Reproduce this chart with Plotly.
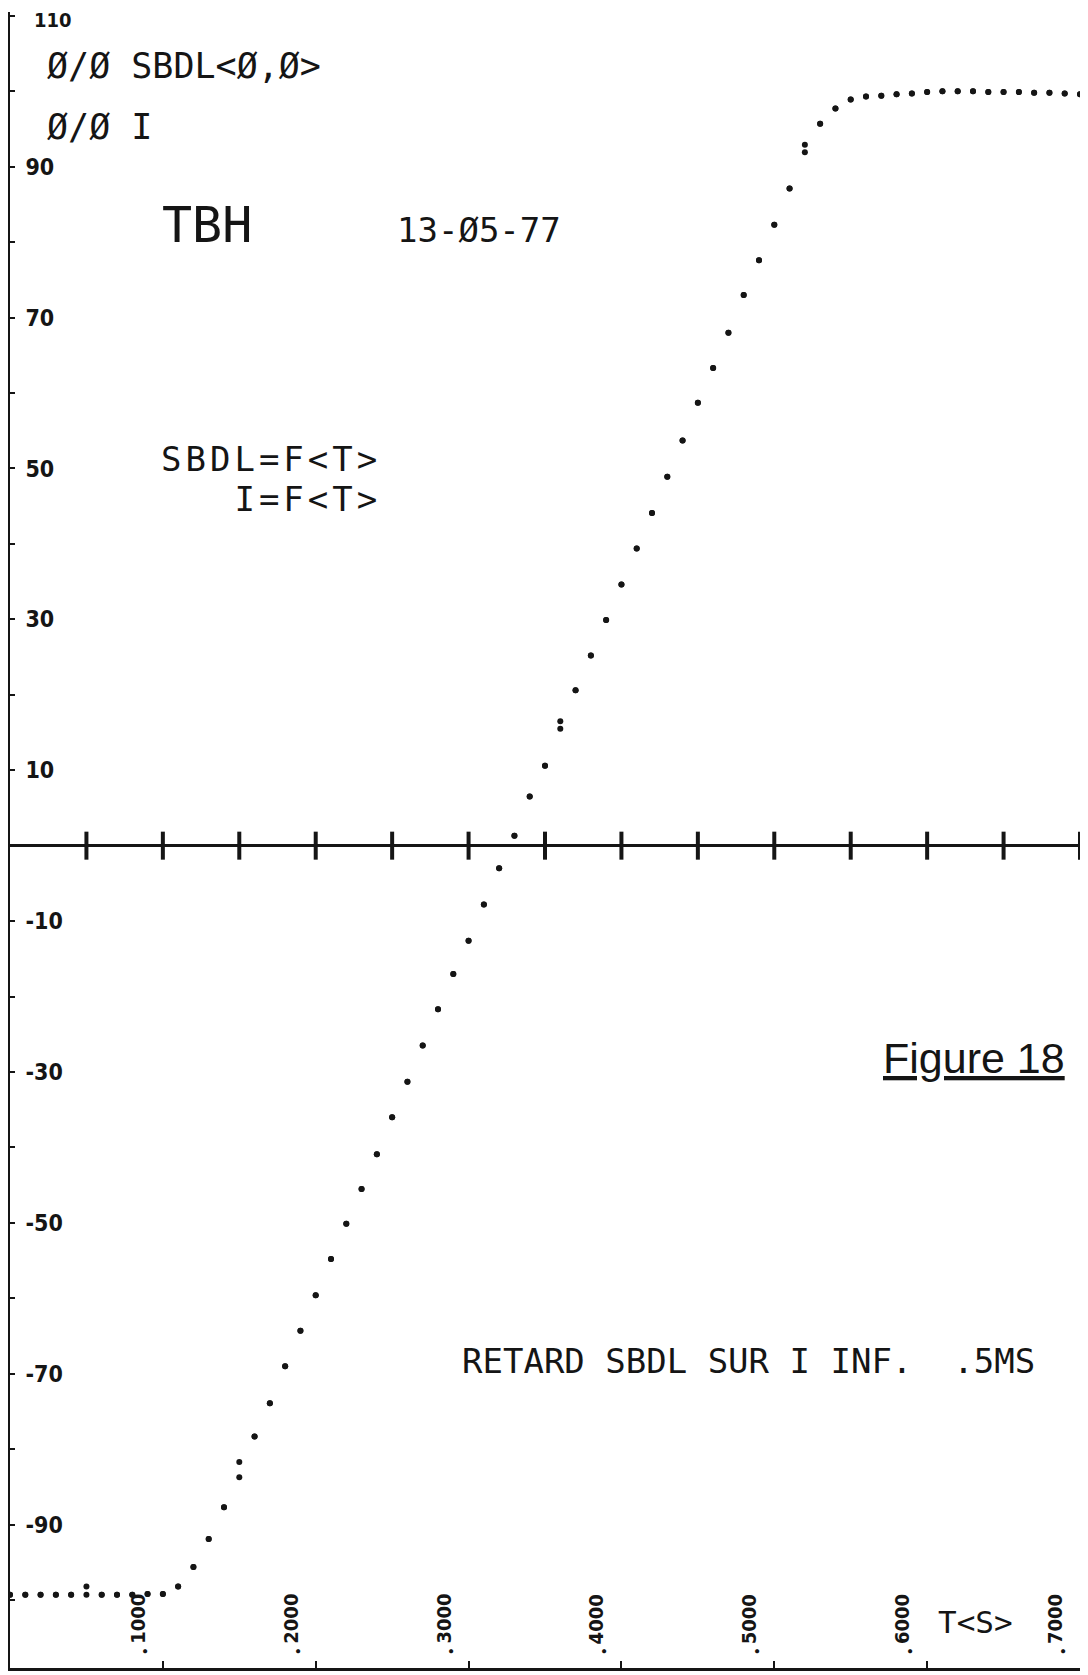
import plotly.graph_objects as go

# ---- data -----------------------------------------------------------
t_s = [0, 100, 200, 300, 400, 500, 600, 700, 800, 900,
       1000, 1100, 1200, 1300, 1400, 1500, 1600, 1700, 1800, 1900,
       2000, 2100, 2200, 2300, 2400, 2500, 2600, 2700, 2800, 2900,
       3000, 3100, 3200, 3300, 3400, 3500, 3600, 3700, 3800, 3900,
       4000, 4100, 4200, 4300, 4400, 4500, 4600, 4700, 4800, 4900,
       5000, 5100, 5200, 5300, 5400, 5500, 5600, 5700, 5800, 5900,
       6000, 6100, 6200, 6300, 6400, 6500, 6600, 6700, 6800, 6900,
       7000]

sbdl = [-99.3, -99.3, -99.3, -99.3, -99.3, -99.3, -99.3, -99.3, -99.3, -99.2,
        -99.2, -98.2, -95.6, -91.9, -87.7, -83.7, -78.3, -73.9, -69.0, -64.3,
        -59.6, -54.8, -50.1, -45.5, -40.9, -36.0, -31.3, -26.5, -21.7, -17.0,
        -12.6, -7.8, -3.0, 1.3, 6.5, 10.6, 15.5, 20.6, 25.2, 29.9,
        34.6, 39.4, 44.1, 48.9, 53.7, 58.7, 63.3, 68.0, 73.0, 77.6,
        82.3, 87.1, 91.9, 95.7, 97.7, 98.9, 99.3, 99.4, 99.6, 99.7,
        99.9, 100.0, 100.0, 100.0, 99.9, 99.9, 99.9, 99.8, 99.8, 99.7,
        99.6]

courant_i = [-99.3, -99.3, -99.3, -99.3, -99.3, -98.2, -99.3, -99.3, -99.3, -99.2,
             -99.2, -98.2, -95.6, -91.9, -87.7, -81.7, -78.3, -73.9, -69.0, -64.3,
             -59.6, -54.8, -50.1, -45.5, -40.9, -36.0, -31.3, -26.5, -21.7, -17.0,
             -12.6, -7.8, -3.0, 1.3, 6.5, 10.6, 16.5, 20.6, 25.2, 29.9,
             34.6, 39.4, 44.1, 48.9, 53.7, 58.7, 63.3, 68.0, 73.0, 77.6,
             82.3, 87.1, 92.9, 95.7, 97.7, 98.9, 99.3, 99.4, 99.6, 99.7,
             99.9, 100.0, 100.0, 100.0, 99.9, 99.9, 99.9, 99.8, 99.8, 99.7,
             99.6]

zero_axis_ticks = [500, 1000, 1500, 2000, 2500, 3000, 3500,
                   4000, 4500, 5000, 5500, 6000, 6500, 7000]
time_ticks = [1000, 2000, 3000, 4000, 5000, 6000, 7000]
time_labels = ["1000", "2000", "3000", "4000", "5000", "6000", "7000"]

y_ticks = [-100, -90, -80, -70, -60, -50, -40, -30, -20, -10, 0,
           10, 20, 30, 40, 50, 60, 70, 80, 90, 100, 110]
y_labels = ["", "-90", "", "-70", "", "-50", "", "-30", "", "-10", "",
            "10", "", "30", "", "50", "", "70", "", "90", "", ""]
y_top_value = 110
y_top_label = "110"

MONO = "DejaVu Sans Mono, Liberation Mono, monospace"
NARROW = "Liberation Sans Narrow, DejaVu Sans Condensed, Liberation Sans, sans-serif"
INK = "#151515"

fig = go.Figure()

# cross ticks on the zero axis
fig.add_trace(go.Scatter(
    x=zero_axis_ticks, y=[0] * len(zero_axis_ticks), mode="markers",
    marker=dict(symbol="line-ns", size=20, line=dict(width=4, color=INK)),
    showlegend=False, hoverinfo="skip", cliponaxis=False))

fig.add_trace(go.Scatter(
    x=t_s, y=courant_i, mode="markers", name="I",
    marker=dict(size=6, color=INK), showlegend=False, cliponaxis=False))
fig.add_trace(go.Scatter(
    x=t_s, y=sbdl, mode="markers", name="SBDL",
    marker=dict(size=6, color=INK), showlegend=False, cliponaxis=False))

annotations = []


def txt(text, x, y, size, family=MONO, **kw):
    annotations.append(dict(text=text, x=x, y=y, xref="x", yref="y",
                            xanchor=kw.pop("xanchor", "left"),
                            yanchor=kw.pop("yanchor", "middle"),
                            xshift=kw.pop("xshift", -4),
                            showarrow=False,
                            font=dict(family=family, size=size, color=INK), **kw))


wide = "<span style='font-size:34px;letter-spacing:4px'>{}</span>"
NB = "\u00a0"

txt("Ø/Ø SBDL&lt;Ø,Ø&gt;", 255, 103.3, 35)
txt("Ø/Ø I", 255, 95.3, 35)
txt("TBH", 1009, 82.3, 50)
txt("13-Ø5-77", 2548, 81.6, 34)
txt(wide.format("SBDL=F&lt;T&gt;") + "<br>" + wide.format(NB * 3 + "I=F&lt;T&gt;"),
    1002, 48.6, 31, align="left")
txt("RETARD SBDL SUR I INF." + NB * 2 + ".5MS", 2967, -68.3, 34)
txt("<u>Figure 18</u>", 5724, -28.2, 43, family="Liberation Sans, Arial, sans-serif")
txt("T&lt;S&gt;", 6084, -102.9, 31)
txt("<b>" + y_top_label + "</b>", 0, y_top_value, 20, family=NARROW,
    xshift=22, yshift=-4)

for v, lab in zip(time_ticks, time_labels):
    txt("<b>" + lab + "</b>", v, -102.5, 20, family=NARROW,
        xanchor="center", textangle=-90, xshift=-25)
    txt("●", v, -106.8, 7, xanchor="center", xshift=-17)

# the page body adds an 8 px offset; margins compensate for it
fig.update_layout(
    width=1088, height=1675,
    margin=dict(l=2, r=16, t=4, b=15, autoexpand=False),
    paper_bgcolor="white", plot_bgcolor="white",
    annotations=annotations,
    xaxis=dict(range=[0, 7000], showline=True, linewidth=3, linecolor=INK,
               ticks="inside", tickvals=time_ticks, ticklen=7, tickwidth=2,
               tickcolor=INK, showticklabels=False, showgrid=False,
               zeroline=False, automargin=False),
    yaxis=dict(range=[-109, 110.5], showline=True, linewidth=3, linecolor=INK,
               ticks="inside", tickvals=y_ticks, ticktext=y_labels,
               ticklen=5, tickwidth=2, tickcolor=INK,
               ticklabelposition="inside", ticklabelstandoff=12,
               tickfont=dict(family=NARROW, size=23, color=INK, weight="bold"),
               showgrid=False, zeroline=True, zerolinewidth=3,
               zerolinecolor=INK, automargin=False),
)

fig.write_html("out.html")
